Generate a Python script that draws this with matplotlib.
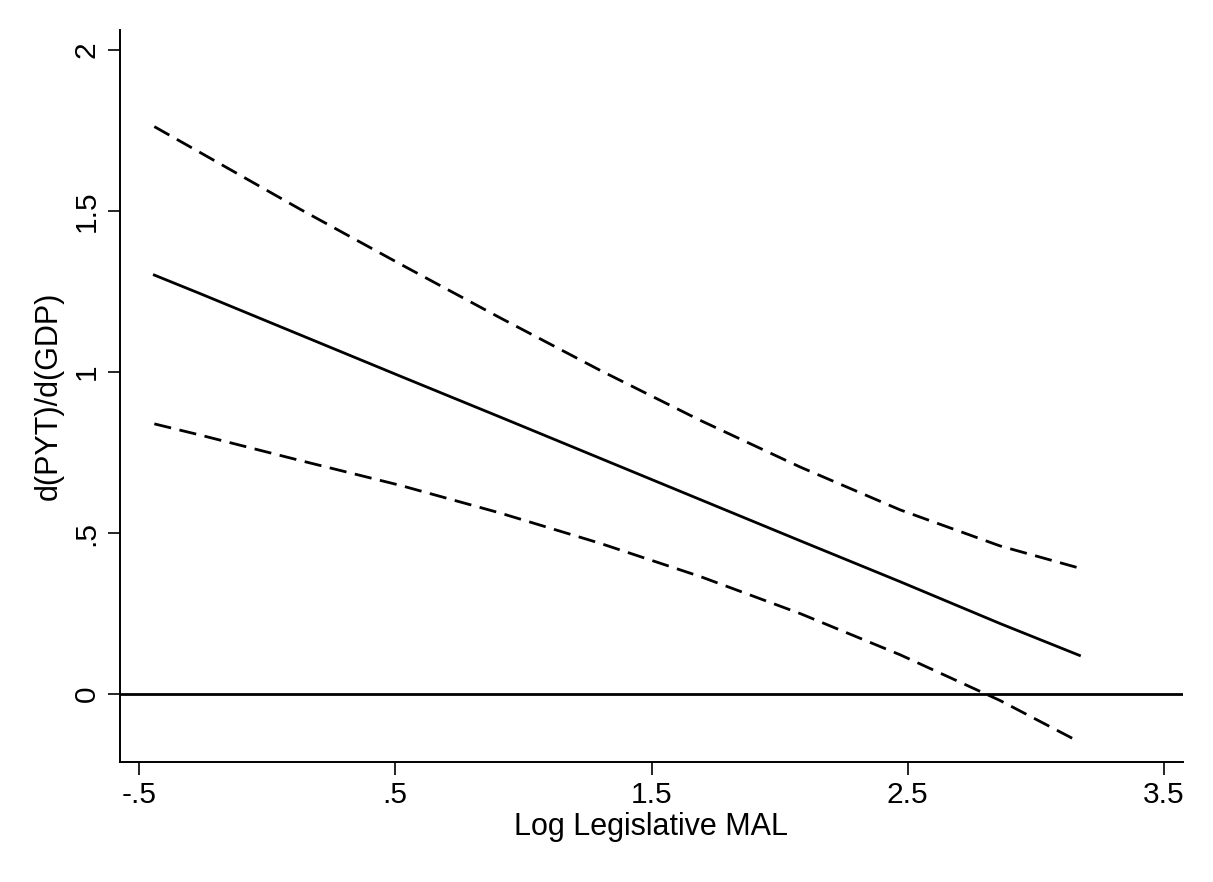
import matplotlib.pyplot as plt
import numpy as np

plt.rcParams['font.family'] = ['Liberation Sans', 'DejaVu Sans']

# values
mal = [-0.44, -0.26, 0.13, 0.52, 0.91, 1.30, 1.69, 2.08, 2.47, 2.86, 3.17]
effect = [1.301, 1.243, 1.115, 0.987, 0.860, 0.732, 0.604, 0.476, 0.349, 0.219, 0.120]
upper = [1.762, 1.681, 1.505, 1.335, 1.168, 1.005, 0.850, 0.705, 0.572, 0.460, 0.391]
lower = [0.839, 0.804, 0.725, 0.648, 0.562, 0.468, 0.365, 0.250, 0.122, -0.020, -0.149]

xticks = [-0.5, 0.5, 1.5, 2.5, 3.5]
xticklabels = ['-.5', '.5', '1.5', '2.5', '3.5']
yticks = [0, 0.5, 1, 1.5, 2]
yticklabels = ['0', '.5', '1', '1.5', '2']

fig = plt.figure(figsize=(12.13, 8.82), dpi=100)
ax = fig.add_axes([120/1213, 120/882, 1063/1213, 732/882])

ax.plot(mal, effect, color='black', lw=2)
ax.plot(mal, upper, color='black', lw=2, dashes=(6.2, 3.1))
ax.plot(mal, lower, color='black', lw=2, dashes=(6.2, 3.1))
ax.axhline(0, color='black', lw=2)

ax.set_xlim(-0.574, 3.574)
ax.set_ylim(-0.211, 2.062)
ax.set_xticks(xticks)
ax.set_xticklabels(xticklabels)
ax.set_yticks(yticks)
ax.set_yticklabels(yticklabels, rotation=90, va='center')
ax.tick_params(length=9, width=1.2, labelsize=21.5, pad=5)

for s in ['top', 'right']:
    ax.spines[s].set_visible(False)
for s in ['left', 'bottom']:
    ax.spines[s].set_linewidth(1.4)

ax.set_xlabel('Log Legislative MAL', fontsize=22, labelpad=2)
ax.set_ylabel('d(PYT)/d(GDP)', fontsize=22, labelpad=6)

fig.savefig('out.png', dpi=100)
